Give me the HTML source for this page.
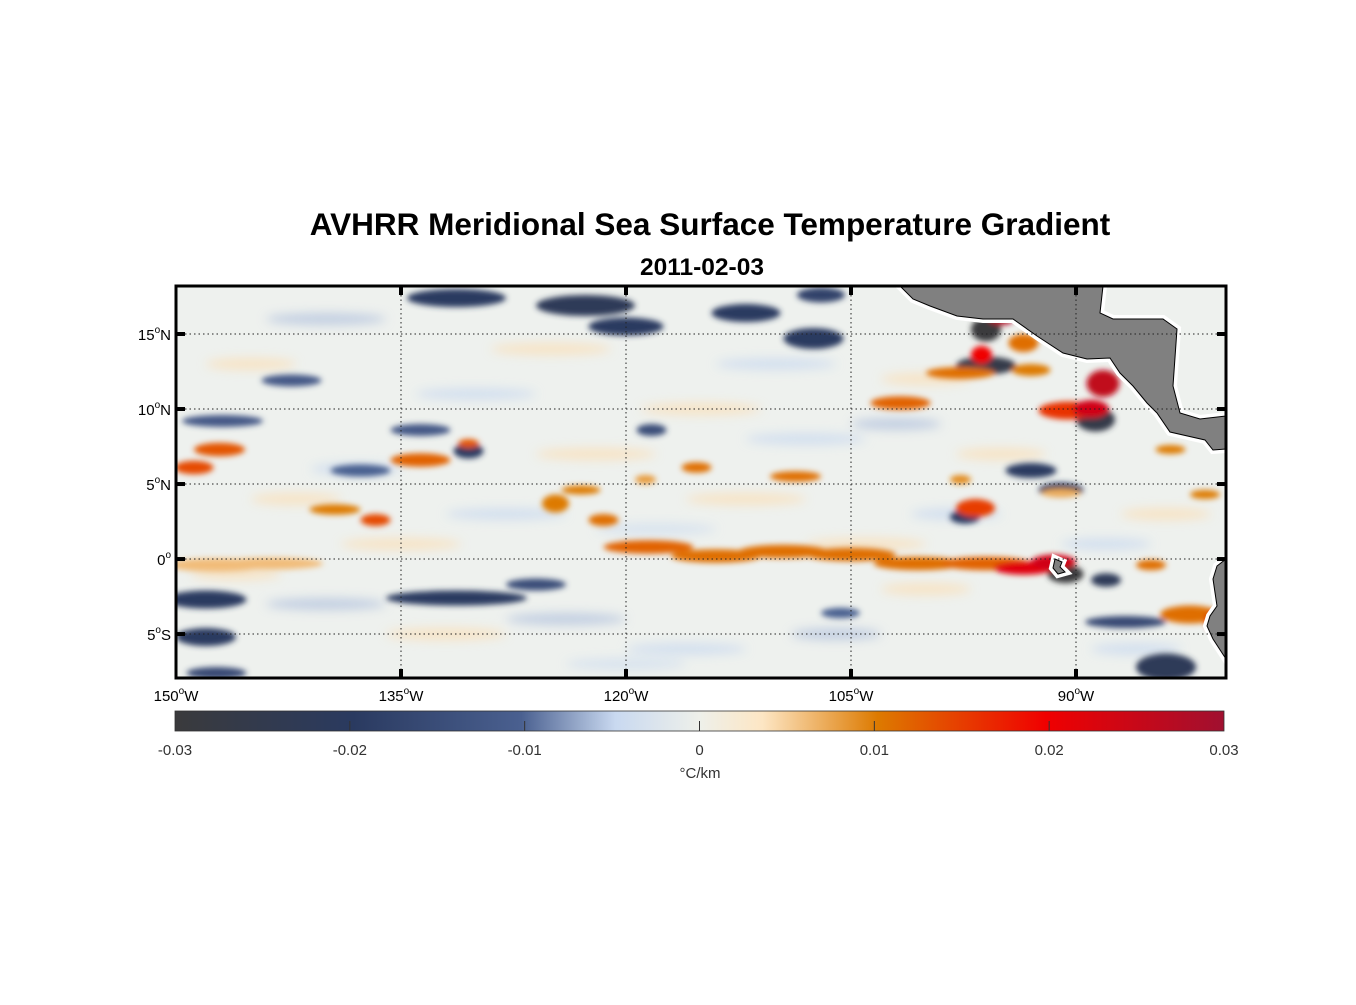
<!DOCTYPE html>
<html><head><meta charset="utf-8">
<style>
body{margin:0;background:#fff;width:1356px;height:1000px;overflow:hidden;font-family:"Liberation Sans",sans-serif}
svg text{font-family:"Liberation Sans",sans-serif}
</style></head>
<body>
<svg id="fig" width="1356" height="1000" xmlns="http://www.w3.org/2000/svg">
<defs>
<clipPath id="mapclip"><rect x="176" y="286" width="1050" height="392"/></clipPath>
<filter id="blur" x="-50%" y="-50%" width="200%" height="200%"><feGaussianBlur stdDeviation="3"/></filter>
<filter id="blur2" x="-50%" y="-50%" width="200%" height="200%"><feGaussianBlur stdDeviation="5"/></filter>
<linearGradient id="cbgrad" x1="0" x2="1" y1="0" y2="0">
<stop offset="0" stop-color="#3a3a3c"/><stop offset="0.17" stop-color="#2a3a60"/><stop offset="0.33" stop-color="#4a6090"/>
<stop offset="0.42" stop-color="#c9d9f0"/><stop offset="0.5" stop-color="#eef0ea"/><stop offset="0.56" stop-color="#fde6c4"/>
<stop offset="0.67" stop-color="#dd7a00"/><stop offset="0.83" stop-color="#f00000"/><stop offset="1" stop-color="#a01030"/>
</linearGradient>
</defs>
<text x="710" y="235" font-size="31.5" font-weight="bold" text-anchor="middle">AVHRR Meridional Sea Surface Temperature Gradient</text>
<text x="702" y="275" font-size="24.5" font-weight="bold" text-anchor="middle">2011-02-03</text>
<g id="map" clip-path="url(#mapclip)">
<rect x="176" y="286" width="1050" height="392" fill="#eef1ee"/>
<g id="faint" filter="url(#blur2)"></g>
<g id="blobs" filter="url(#blur)"></g>
<g id="land"></g>
</g>
<g id="grid"></g>
<rect x="176" y="286" width="1050" height="392" fill="none" stroke="#000" stroke-width="3"/>
<g id="axes"></g>
<rect x="175" y="711" width="1049" height="20" fill="url(#cbgrad)" stroke="#333" stroke-width="0.8"/>
<g id="cbticks"></g>
<text x="700" y="778" font-size="15" fill="#333" text-anchor="middle">°C/km</text>
</svg>
<script>
const NS="http://www.w3.org/2000/svg";
const lonMin=-150, lonMax=-80, latMin=-7.93, latMax=18.2;
const lonTicks=[-150,-135,-120,-105,-90];
const lonTickLabels=["150","135","120","105","90"];
const latTicks=[15,10,5,0,-5];
const latTickLabels=["15","10","5","0","5"];
const latTickSuffix=["N","N","N","",'S'];
const cbTicks=[-0.03,-0.02,-0.01,0,0.01,0.02,0.03];
const cbTickLabels=["-0.03","-0.02","-0.01","0","0.01","0.02","0.03"];
// strong gradient features: lon, lat, half-width deg, half-height deg, value
const featLon=[-131.3,-122.7,-120,-112,-107,-107.5,-96,-96,-88.7,-93,-91,-146.9,-142.3,-133.7,-130.5,-118.3,-148,-148,-147.3,-131.3,-126,-90.7,-88,-97.4,-86.7,-84,-105.7,-137.7,
 -147.1,-148.8,-133.7,-130.5,-139.4,-136.7,-124.7,-123,-118.5,-114,-109.5,-105,-100.5,-96,-93.5,-91.5,-143.7,-115.3,-108.7,-118.7,-101.7,-97.7,-90.5,-89,-88.2,-96.3,-95,-93.5,-93,-96.7,-85,-82.4,-80.6,-81.4,-147.3,-83.7,-97.7,-91,-121.5];
const featLat=[17.4,16.9,15.5,16.4,17.6,14.7,15.3,12.9,9.3,5.9,4.6,9.2,11.9,8.6,7.2,8.6,-2.7,-5.2,-7.6,-2.6,-1.7,-1.0,-1.4,2.8,-4.2,-7.2,-3.6,5.9,
 7.3,6.1,6.6,7.7,3.3,2.6,3.7,4.6,0.8,0.2,0.5,0.3,-0.3,-0.3,-0.6,-0.2,-0.3,6.1,5.5,5.3,10.4,12.4,9.9,10.0,11.7,13.6,15.9,14.4,12.6,3.4,-0.4,-3.7,-4.1,4.3,-0.4,7.3,5.3,4.4,2.6];
const featW=[3.3,3.3,2.5,2.3,1.6,2,1,2,1.3,1.7,1.5,2.7,2,2,1,1,2.7,2,2,4.7,2,1.2,1,1,2.7,2,1.3,2,
 1.7,1.3,2,0.7,1.7,1,0.9,1.3,3,3,3,3,3,3,2,1.5,3.5,1,1.7,0.7,2,2.3,2,1.2,1.1,0.7,0.8,1,1.3,1.3,1,2,0.8,1,3.3,1,0.7,1.3,1];
const featH=[0.6,0.7,0.6,0.6,0.5,0.7,0.8,0.6,0.8,0.5,0.5,0.4,0.4,0.4,0.5,0.4,0.6,0.6,0.4,0.5,0.4,0.6,0.45,0.45,0.4,0.9,0.35,0.4,
 0.45,0.45,0.45,0.3,0.35,0.4,0.6,0.3,0.45,0.45,0.45,0.45,0.45,0.45,0.45,0.5,0.4,0.35,0.35,0.3,0.45,0.4,0.6,0.6,0.9,0.6,0.3,0.6,0.4,0.6,0.35,0.6,0.7,0.3,0.45,0.3,0.3,0.3,0.4];
const featVal=[-0.02,-0.022,-0.02,-0.02,-0.018,-0.02,-0.03,-0.026,-0.026,-0.02,-0.02,-0.012,-0.012,-0.012,-0.02,-0.015,-0.02,-0.02,-0.016,-0.02,-0.015,-0.03,-0.022,-0.02,-0.016,-0.022,-0.01,-0.01,
 0.013,0.014,0.012,0.013,0.01,0.014,0.01,0.01,0.012,0.011,0.011,0.011,0.011,0.012,0.022,0.024,0.006,0.011,0.011,0.008,0.012,0.011,0.016,0.024,0.026,0.02,0.028,0.011,0.01,0.015,0.011,0.011,0.022,0.01,0.006,0.01,0.009,0.007,0.011];
// faint background streaks
const faintLon=[-140,-125,-110,-100,-145,-130,-115,-102,-138,-122,-108,-95,-142,-128,-112,-98,-84,-135,-118,-104,-88,-140,-124,-106,-86,-132,-116,-100,-146,-120];
const faintLat=[16,14,13,12,13,11,10,9,6,7,8,7,4,3,4,3,3,1,2,1,1,-3,-4,-5,-6,-5,-6,-2,-1,-7];
const faintW=[4,4,4,3,3,4,4,3,3,4,4,3,3,4,4,3,3,4,4,4,3,4,4,3,3,4,4,3,3,4];
const faintVal=[-0.006,0.004,-0.005,0.004,0.004,-0.005,0.004,-0.006,-0.005,0.004,-0.005,0.004,0.004,-0.005,0.004,-0.005,0.004,0.004,-0.004,0.004,-0.005,-0.006,-0.006,-0.006,-0.005,0.004,-0.005,0.004,0.004,-0.004];
function xS(lon){return 176+(lon-lonMin)/(lonMax-lonMin)*1050;}
function yS(lat){return 286+(latMax-lat)/(latMax-latMin)*392;}
function cbX(v){return 175+(v+0.03)/0.06*1049;}
const cstops=[[-0.03,[58,58,60]],[-0.02,[42,58,96]],[-0.01,[74,96,144]],[-0.005,[201,217,240]],[0,[238,240,234]],[0.0035,[253,230,196]],[0.01,[221,122,0]],[0.02,[240,0,0]],[0.03,[160,16,48]]];
function cmap(v){
  v=Math.max(-0.03,Math.min(0.03,v));
  for(let i=0;i<cstops.length-1;i++){const a=cstops[i],b=cstops[i+1];
    if(v<=b[0]){const t=(v-a[0])/(b[0]-a[0]);const c=a[1].map((x,j)=>Math.round(x+(b[1][j]-x)*t));return `rgb(${c})`;}}
  return "rgb(160,16,48)";
}
const faint=document.getElementById("faint");
for(let i=0;i<faintLon.length;i++){
  const e=document.createElementNS(NS,"ellipse");
  e.setAttribute("cx",xS(faintLon[i]));e.setAttribute("cy",yS(faintLat[i]));
  e.setAttribute("rx",faintW[i]*15);e.setAttribute("ry",6);
  e.setAttribute("fill",cmap(faintVal[i]));e.setAttribute("opacity","0.7");
  
  
  faint.appendChild(e);
}
const blobs=document.getElementById("blobs");
for(let i=0;i<featLon.length;i++){
  const e=document.createElementNS(NS,"ellipse");
  e.setAttribute("cx",xS(featLon[i]));e.setAttribute("cy",yS(featLat[i]));
  e.setAttribute("rx",featW[i]*15);e.setAttribute("ry",featH[i]*15);
  e.setAttribute("fill",cmap(featVal[i]));
  
  
  blobs.appendChild(e);
}
const land=document.getElementById("land");
const pts={"central-america-land":"900,286 1103,286 1100,313 1113,319 1163,319 1177,329 1173,386 1180,413 1200,419 1226,416 1226,449 1213,450 1205,440 1170,432 1157,413 1147,403 1133,386 1120,373 1110,358 1087,359 1063,353 1037,336 1013,319 983,319 957,316 930,306 913,299",
 "south-america-land":"1226,559 1217,566 1213,579 1217,606 1210,616 1207,626 1213,639 1226,659",
 "galapagos-land":"1055,559 1062,562 1060,567 1065,572 1058,574 1053,568"};
for(const k in pts){
  const h=document.createElementNS(NS,"polygon");h.setAttribute("points",pts[k]);h.setAttribute("fill","#fff");h.setAttribute("stroke","#fff");h.setAttribute("stroke-width","8");
  
  
  land.appendChild(h);
  const p=document.createElementNS(NS,"polygon");p.setAttribute("points",pts[k]);p.setAttribute("fill","#808080");p.setAttribute("stroke","#000");p.setAttribute("stroke-width","1");
  
  
  land.appendChild(p);
}
const grid=document.getElementById("grid"),axes=document.getElementById("axes");
function line(g,x1,y1,x2,y2,st,w,dash){const l=document.createElementNS(NS,"line");l.setAttribute("x1",x1);l.setAttribute("y1",y1);l.setAttribute("x2",x2);l.setAttribute("y2",y2);l.setAttribute("stroke",st);l.setAttribute("stroke-width",w);if(dash)l.setAttribute("stroke-dasharray",dash);g.appendChild(l);return l;}
lonTicks.forEach((lon,i)=>{const x=xS(lon);
  if(i>0){const gl=line(grid,x,286,x,678,"#222",1,"1.5 3");
    
    
    line(axes,x,286,x,295,"#000",4);line(axes,x,669,x,678,"#000",4);}
  const t=document.createElementNS(NS,"text");t.setAttribute("x",x);t.setAttribute("y",701);t.setAttribute("font-size","15");t.setAttribute("text-anchor","middle");
  t.innerHTML=lonTickLabels[i]+'<tspan font-size="10" dy="-7">o</tspan><tspan dy="7">W</tspan>';
  
  
  axes.appendChild(t);
});
latTicks.forEach((lat,i)=>{const y=yS(lat);
  const gl=line(grid,176,y,1226,y,"#222",1,"1.5 3");
  
  
  line(axes,176,y,185,y,"#000",4);line(axes,1217,y,1226,y,"#000",4);
  const t=document.createElementNS(NS,"text");t.setAttribute("x",171);t.setAttribute("y",y+6);t.setAttribute("font-size","15");t.setAttribute("text-anchor","end");
  t.innerHTML=latTickLabels[i]+'<tspan font-size="10" dy="-7">o</tspan><tspan dy="7">'+latTickSuffix[i]+'</tspan>';
  
  
  axes.appendChild(t);
});
const cbt=document.getElementById("cbticks");
cbTicks.forEach((v,i)=>{const x=cbX(v);
  if(i>0&&i<cbTicks.length-1){line(cbt,x,721,x,731,"#333",1);}
  const t=document.createElementNS(NS,"text");t.setAttribute("x",x);t.setAttribute("y",755);t.setAttribute("font-size","15");t.setAttribute("fill","#333");t.setAttribute("text-anchor","middle");t.textContent=cbTickLabels[i];
  
  
  cbt.appendChild(t);
});
</script>
</body></html>
